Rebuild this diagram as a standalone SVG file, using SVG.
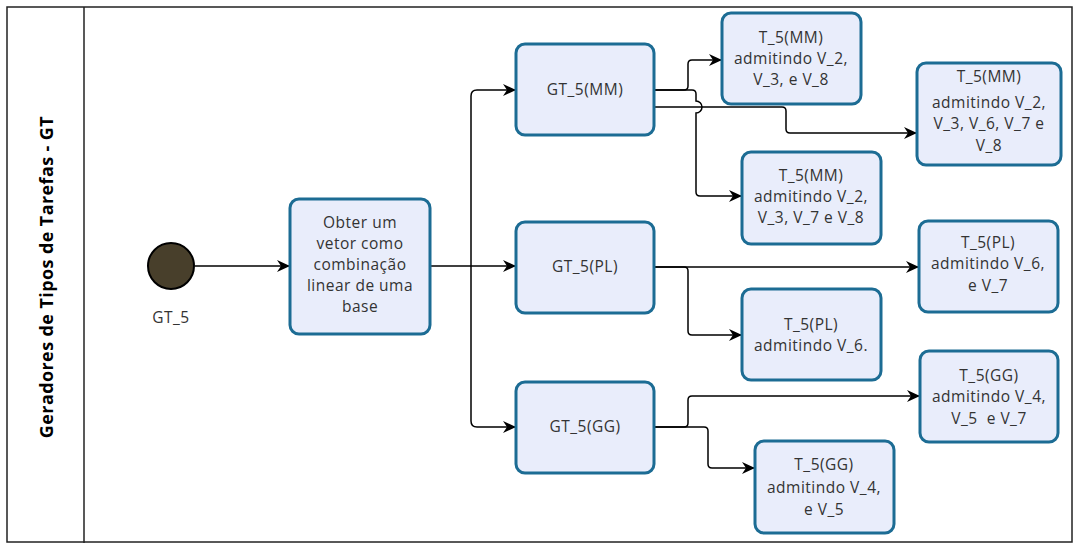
<svg xmlns="http://www.w3.org/2000/svg" width="1075" height="543" viewBox="0 0 1075 543">
<style>
.box{fill:#e9edfb;stroke:#1c6c94;stroke-width:3}
.t{font-family:"Open Sans","Noto Sans",sans-serif;font-size:15.5px;letter-spacing:0.5px;fill:#333;text-anchor:middle}
.c{fill:none;stroke:#000;stroke-width:1.5;marker-end:url(#ah)}
</style>
<defs>
<marker id="ah" markerUnits="userSpaceOnUse" markerWidth="14" markerHeight="12" refX="13" refY="6" orient="auto">
<path d="M0,0 L13,6 L0,12 L4,6 Z" fill="#000"/>
</marker>
</defs>
<rect x="0" y="0" width="1075" height="543" fill="#fff"/>
<g id="lane">
<rect x="7" y="7" width="1065" height="535" fill="none" stroke="#222" stroke-width="1.5"/>
<line x1="84" y1="7" x2="84" y2="543" stroke="#222" stroke-width="1.5"/>
<text x="0" y="0" transform="translate(53,277) rotate(-90)" font-family="'Open Sans','Noto Sans',sans-serif" font-size="18" font-weight="bold" letter-spacing="0.4" fill="#000" text-anchor="middle">Geradores de Tipos de Tarefas - GT</text>
</g>
<g id="connectors">
<path class="c" d="M195,266 H290"/>
<path class="c" d="M430,266 H516"/>
<path class="c" d="M471,266 V96 q0,-6 6,-6 H516"/>
<path class="c" d="M471,266 V421 q0,6 6,6 H516"/>
<path class="c" d="M654,90 H684 q4,0 4,-4 V64 q0,-4 4,-4 H722"/>
<path class="c" d="M654,107 H782 q4,0 4,4 V129 q0,4 4,4 H917"/>
<path class="c" d="M654,90 H692 q4,0 4,4 V101 a6,6 0 0 1 0,12 V192 q0,4 4,4 H742"/>
<path class="c" d="M654,267 H919"/>
<path class="c" d="M654,267 H684 q4,0 4,4 V331 q0,4 4,4 H742"/>
<path class="c" d="M654,427 H684 q4,0 4,-4 V400 q0,-4 4,-4 H920"/>
<path class="c" d="M654,427 H704 q4,0 4,4 V464 q0,4 4,4 H755"/>
</g>
<g id="start">
<circle cx="171" cy="266" r="23" fill="#483f2b" stroke="#000" stroke-width="2"/>
<text class="t" x="171" y="323">GT_5</text>
</g>
<g id="obter">
<rect class="box" x="290" y="199" width="140" height="135" rx="9"/>
<text class="t" x="360" y="228">Obter um</text>
<text class="t" x="360" y="249">vetor como</text>
<text class="t" x="360" y="270">combinação</text>
<text class="t" x="360" y="291">linear de uma</text>
<text class="t" x="360" y="312">base</text>
</g>
<g id="gt5mm">
<rect class="box" x="516" y="44" width="138" height="91" rx="9"/>
<text class="t" x="585" y="95">GT_5(MM)</text>
</g>
<g id="gt5pl">
<rect class="box" x="516" y="222" width="138" height="91" rx="9"/>
<text class="t" x="585" y="272">GT_5(PL)</text>
</g>
<g id="gt5gg">
<rect class="box" x="516" y="382" width="138" height="91" rx="9"/>
<text class="t" x="585" y="432">GT_5(GG)</text>
</g>
<g id="t5mm1">
<rect class="box" x="722" y="13" width="139" height="91" rx="9"/>
<text class="t" x="791" y="43">T_5(MM)</text>
<text class="t" x="791" y="64">admitindo V_2,</text>
<text class="t" x="791" y="85">V_3, e V_8</text>
</g>
<g id="t5mm2">
<rect class="box" x="917" y="63" width="144" height="102" rx="9"/>
<text class="t" x="989" y="82">T_5(MM)</text>
<text class="t" x="989" y="108">admitindo V_2,</text>
<text class="t" x="989" y="129">V_3, V_6, V_7 e</text>
<text class="t" x="989" y="151">V_8</text>
</g>
<g id="t5mm3">
<rect class="box" x="742" y="152" width="139" height="92" rx="9"/>
<text class="t" x="811" y="181">T_5(MM)</text>
<text class="t" x="811" y="202">admitindo V_2,</text>
<text class="t" x="811" y="223">V_3, V_7 e V_8</text>
</g>
<g id="t5pl1">
<rect class="box" x="919" y="221" width="139" height="91" rx="9"/>
<text class="t" x="988" y="248">T_5(PL)</text>
<text class="t" x="988" y="269">admitindo V_6,</text>
<text class="t" x="988" y="291">e V_7</text>
</g>
<g id="t5pl2">
<rect class="box" x="742" y="289" width="139" height="91" rx="9"/>
<text class="t" x="811" y="330">T_5(PL)</text>
<text class="t" x="811" y="351">admitindo V_6.</text>
</g>
<g id="t5gg1">
<rect class="box" x="920" y="351" width="138" height="91" rx="9"/>
<text class="t" x="989" y="381">T_5(GG)</text>
<text class="t" x="989" y="402">admitindo V_4,</text>
<text class="t" x="989" y="424">V_5&#160; e V_7</text>
</g>
<g id="t5gg2">
<rect class="box" x="755" y="441" width="139" height="92" rx="9"/>
<text class="t" x="824" y="470">T_5(GG)</text>
<text class="t" x="824" y="493">admitindo V_4,</text>
<text class="t" x="824" y="515">e V_5</text>
</g>
</svg>
